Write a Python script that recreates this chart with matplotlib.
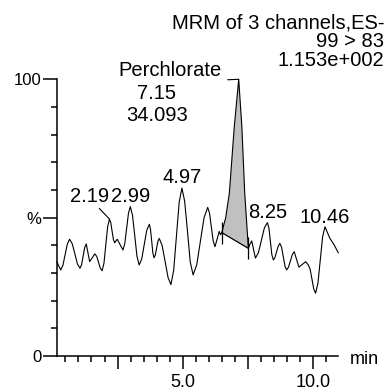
import numpy as np
import matplotlib
matplotlib.use("Agg")
import matplotlib.pyplot as plt
from matplotlib.ticker import MultipleLocator, FixedLocator

plt.rcParams['font.family'] = ['Liberation Sans', 'DejaVu Sans']

# MRM trace 99 > 83: retention time (min) and relative intensity (%)
time_min = [0.18, 0.24, 0.32, 0.405, 0.49, 0.575, 0.66, 0.76, 0.86, 0.96,
            1.06, 1.12, 1.18, 1.24, 1.30, 1.365, 1.43, 1.53, 1.63, 1.70,
            1.77, 1.84, 1.91, 1.98, 2.05, 2.12, 2.19, 2.24, 2.29, 2.34,
            2.39, 2.44, 2.49, 2.60, 2.71, 2.78, 2.85, 2.92, 2.99, 3.075,
            3.16, 3.245, 3.33, 3.43, 3.525, 3.62, 3.72, 3.765, 3.81, 3.855,
            3.90, 3.95, 4.00, 4.05, 4.10, 4.21, 4.325, 4.44, 4.55, 4.655,
            4.76, 4.865, 4.97, 5.075, 5.185, 5.29, 5.40, 5.54, 5.68, 5.82,
            5.96, 6.03, 6.10, 6.17, 6.24, 6.32, 6.40, 6.45, 6.50, 6.65,
            6.79, 6.98, 7.15, 7.27, 7.38, 7.52, 7.585, 7.65, 7.72, 7.79,
            7.905, 8.02, 8.135, 8.25, 8.31, 8.365, 8.42, 8.48, 8.54, 8.605,
            8.67, 8.73, 8.795, 8.86, 8.925, 8.99, 9.06, 9.135, 9.21, 9.28,
            9.37, 9.46, 9.59, 9.72, 9.82, 9.89, 9.96, 10.03, 10.10, 10.19,
            10.28, 10.37, 10.46, 10.555, 10.65, 10.81, 10.97]
intensity = [34.0, 32.6, 31.1, 32.8, 36.7, 40.5, 42.2, 40.6, 37.0, 33.3,
             31.7, 33.0, 36.1, 39.2, 40.5, 37.3, 34.1, 35.5, 36.9, 36.0,
             33.9, 31.7, 30.8, 33.6, 40.2, 46.7, 49.5, 48.2, 45.2, 42.2,
             40.9, 41.6, 42.2, 40.2, 38.3, 40.7, 46.2, 51.6, 54.0, 50.8,
             43.5, 36.1, 32.9, 35.1, 40.3, 45.4, 47.6, 45.8, 41.6, 37.3,
             35.5, 36.5, 39.0, 41.5, 42.5, 40.0, 34.2, 28.3, 25.8, 31.0,
             43.3, 55.5, 60.7, 56.0, 45.0, 34.0, 29.3, 33.0, 41.5, 50.0,
             53.7, 51.6, 46.6, 41.6, 39.5, 42.2, 45.0, 43.8, 44.6, 50.0,
             58.8, 82.9, 100.0, 83.0, 59.0, 38.9, 40.5, 41.6, 38.5, 35.4,
             37.3, 41.8, 46.3, 48.2, 46.2, 41.5, 36.7, 34.7, 35.6, 37.7,
             39.8, 40.7, 39.3, 35.9, 32.5, 31.1, 32.1, 34.4, 36.7, 37.7,
             34.9, 32.1, 33.1, 34.1, 32.9, 31.4, 27.8, 24.2, 22.7, 26.3,
             34.7, 43.1, 46.7, 44.6, 42.5, 40.2, 37.3]

# integrated perchlorate peak: name, apex time, area, baseline end points
peak_name = "Perchlorate"
peak_rt = 7.15
peak_area = "34.093"
base_start = (6.50, 44.6)
base_end = (7.52, 38.9)

# other labelled apexes (retention times)
apex_rts = [2.19, 2.99, 4.97, 8.25, 10.46]

# header lines
header = ["MRM of 3 channels,ES-", "99 > 83", "1.153e+002"]

# axis ticks
x_major = [2.5, 5.0, 7.5, 10.0]
x_major_labels = ["", "5.0", "", "10.0"]
x_minor = [0.5, 1.0, 1.5, 2.0, 3.0, 3.5, 4.0, 4.5, 5.5, 6.0, 6.5, 7.0,
           8.0, 8.5, 9.0, 9.5, 10.5]
y_major = [0, 50, 100]
y_major_labels = ["0", "%", "100"]
y_minor = [10, 20, 30, 40, 60, 70, 80, 90]

t = np.array(time_min)
y = np.array(intensity)

W, H = 389, 391
fig = plt.figure(figsize=(W / 100, H / 100), dpi=100)
ax = fig.add_axes([57 / W, (H - 356) / H, (338 - 57) / W, (356 - 79.3) / H])

# shaded integration area between trace and the drawn baseline
sel = (t >= base_start[0]) & (t <= base_end[0])
ax.fill(t[sel], y[sel], facecolor="#c0c0c0", edgecolor="none", zorder=1)

ax.plot(t, y, color="black", lw=0.8, zorder=3, clip_on=False)
ax.plot([base_start[0], base_end[0]], [base_start[1], base_end[1]],
        color="black", lw=0.9, zorder=3)
ax.vlines([base_start[0], base_end[0]],
          [base_start[1] - 4, base_end[1] - 4],
          [base_start[1] + 4, base_end[1] + 4],
          color="black", lw=0.9, zorder=3)

# apex labels
lab_fs = 14.5
offsets = {2.19: (-19.5, 17.4), 2.99: (0, 5), 4.97: (0, 4.6),
           8.25: (0, 4.3), 10.46: (0, 3.3)}
for rt in apex_rts:
    ya = np.interp(rt, t, y)
    dx, dy = offsets[rt]
    if rt == 2.19:
        ax.annotate(f"{rt:.2f}", xy=(rt, ya), xytext=(dx, dy),
                    textcoords="offset pixels", ha="center", va="baseline",
                    fontsize=lab_fs,
                    arrowprops=dict(arrowstyle="-", color="black", lw=0.8,
                                    shrinkA=0, shrinkB=0, relpos=(0.67, 0.0)))
    else:
        ax.annotate(f"{rt:.2f}", xy=(rt, ya), xytext=(dx, dy),
                    textcoords="offset pixels", ha="center", va="baseline",
                    fontsize=lab_fs)

# perchlorate annotation block with leader to the apex
ya = np.interp(peak_rt, t, y)
ax.annotate(peak_name, xy=(peak_rt, ya), xytext=(-68.3, 3.3),
            textcoords="offset pixels", ha="center", va="baseline",
            fontsize=lab_fs, annotation_clip=False,
            arrowprops=dict(arrowstyle="-", color="black", lw=0.8,
                            shrinkA=2, shrinkB=0, relpos=(1.0, 0.0)))
ax.annotate(f"{peak_rt:.2f}", xy=(peak_rt, ya), xytext=(-82.3, -20),
            textcoords="offset pixels", ha="center", va="baseline",
            fontsize=lab_fs, annotation_clip=False)
ax.annotate(peak_area, xy=(peak_rt, ya), xytext=(-81.3, -41.4),
            textcoords="offset pixels", ha="center", va="baseline",
            fontsize=lab_fs, annotation_clip=False)

# header, right aligned
for line, base in zip(header, [28.3, 46.7, 65.7]):
    fig.text(384 / W, 1 - base / H, line, ha="right", va="baseline",
             fontsize=14.5)

fig.text(350 / W, 1 - 363.5 / H, "min", ha="left", va="baseline", fontsize=13)

ax.set_xlim(0.177, 10.96)
ax.set_ylim(0, 100)

ax.xaxis.set_major_locator(FixedLocator(x_major))
ax.set_xticklabels(x_major_labels)
ax.xaxis.set_minor_locator(FixedLocator(x_minor))
ax.yaxis.set_major_locator(FixedLocator(y_major))
ax.set_yticklabels(y_major_labels)
ax.yaxis.set_minor_locator(FixedLocator(y_minor))

ax.tick_params(axis="x", which="major", direction="out", length=9.4,
               width=1.1, pad=3.5, labelsize=13, color="black")
ax.tick_params(axis="x", which="minor", direction="out", length=4.5,
               width=1.1, color="black")
ax.tick_params(axis="y", which="major", direction="out", length=10,
               width=1.1, pad=1, labelsize=12, color="black")
ax.tick_params(axis="y", which="minor", direction="out", length=4.5,
               width=1.1, color="black")

for s in ("top", "right"):
    ax.spines[s].set_visible(False)
for s in ("left", "bottom"):
    ax.spines[s].set_linewidth(1.1)
    ax.spines[s].set_color("black")

fig.savefig("out.png", dpi=100)
